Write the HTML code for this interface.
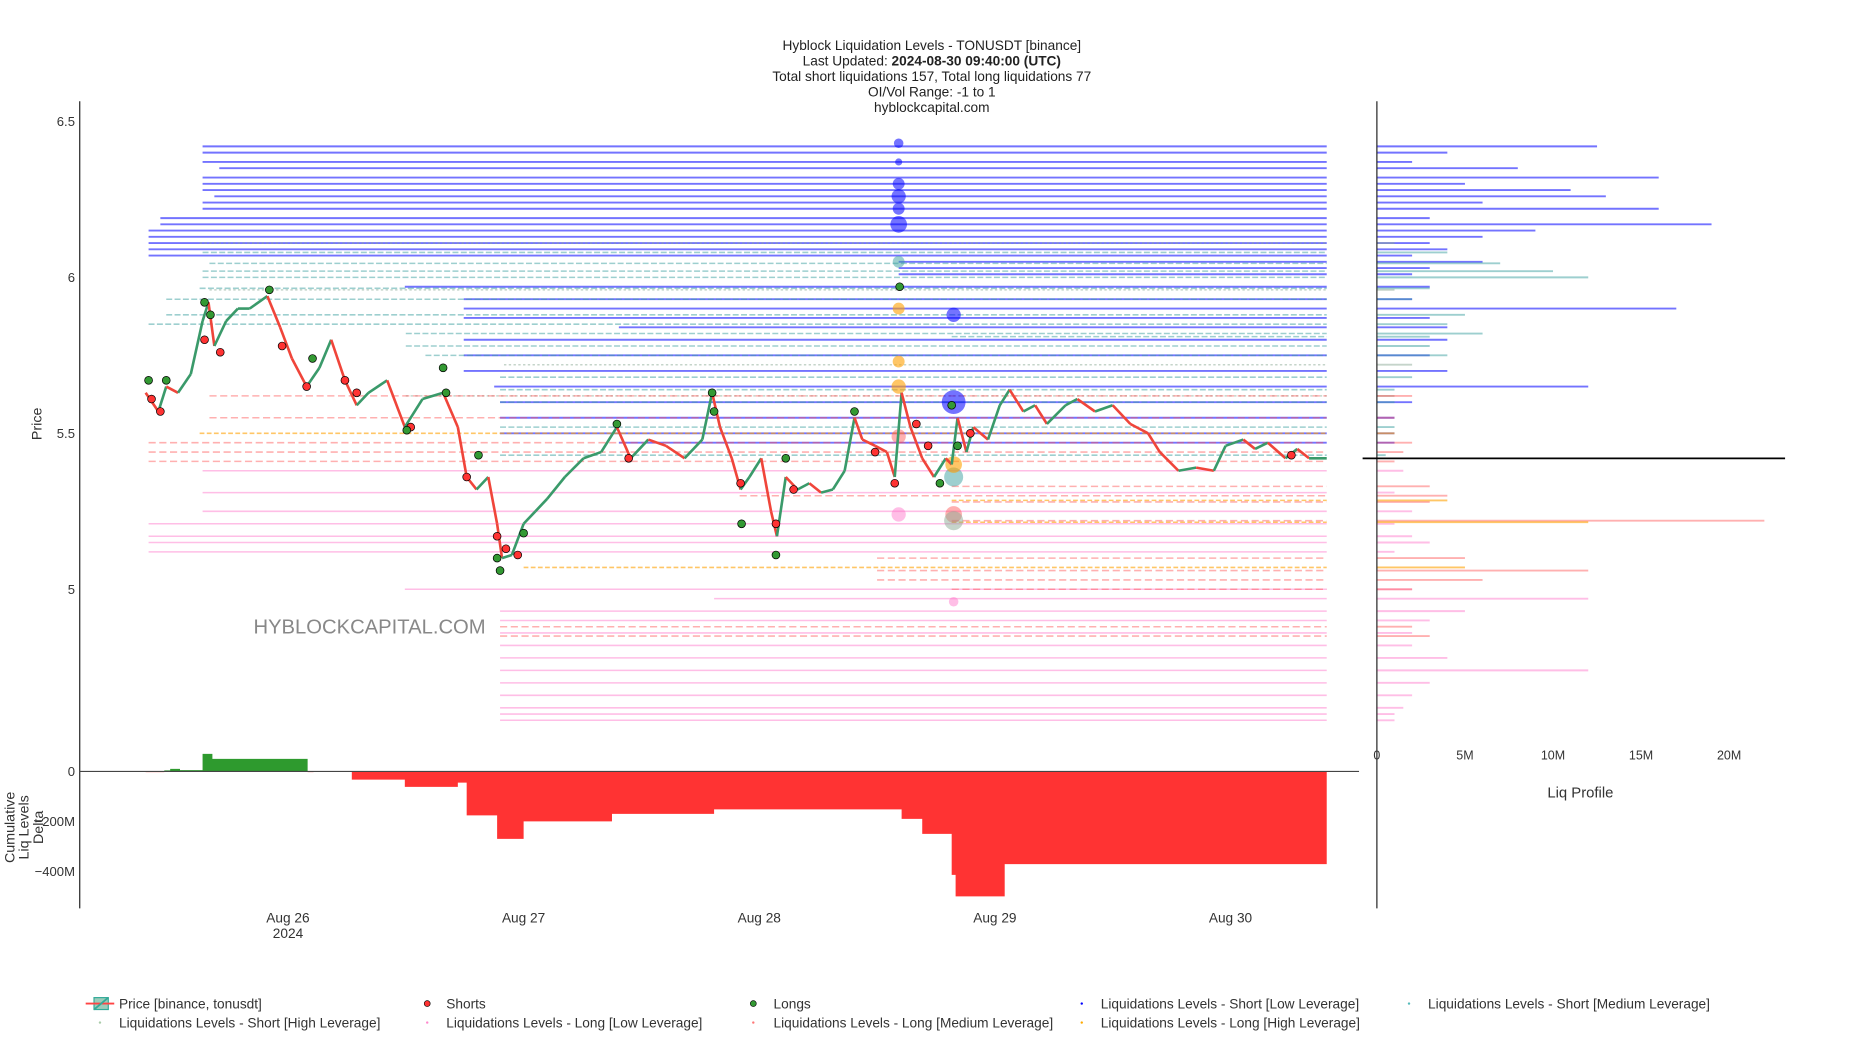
<!DOCTYPE html>
<html><head><meta charset="utf-8"><style>
html,body{margin:0;padding:0;background:#fff;width:1866px;height:1050px;overflow:hidden}
svg{display:block;font-family:"Liberation Sans",sans-serif}
</style></head><body>
<svg id="chart" width="1866" height="1050" viewBox="0 0 1568 882" preserveAspectRatio="none" xmlns="http://www.w3.org/2000/svg">
<g font-size="11.5" text-anchor="middle" fill="#222">
<text x="783" y="42">Hyblock Liquidation Levels - TONUSDT [binance]</text>
<text x="783" y="55">Last Updated: <tspan font-weight="bold">2024-08-30 09:40:00 (UTC)</tspan></text>
<text x="783" y="68">Total short liquidations 157, Total long liquidations 77</text>
<text x="783" y="81">OI/Vol Range: -1 to 1</text>
<text x="783" y="94">hyblockcapital.com</text>
</g>
<text x="213" y="532" font-size="17" fill="#888">HYBLOCKCAPITAL.COM</text>
<g id="levels"></g>
<g id="bubbles"></g>
<g id="price"></g>
<g id="dots"></g>
<g id="delta"></g>
<g id="profile"></g>
<g id="axes" font-size="11" fill="#333"></g>
<g font-size="11.5" fill="#333">
<rect x="79" y="838" width="12" height="10" fill="rgba(90,170,140,0.6)" stroke="#3a9" />
<line x1="72" y1="843" x2="96" y2="843" stroke="#f44" stroke-width="1.5"/>
<line x1="79" y1="848" x2="91" y2="838" stroke="#3a9" stroke-width="1.5"/>
<text x="100" y="847">Price [binance, tonusdt]</text>
<circle cx="359" cy="843" r="2.5" fill="#f33" stroke="#000" stroke-width="0.5"/><text x="375" y="847">Shorts</text>
<circle cx="633" cy="843" r="2.5" fill="#393" stroke="#000" stroke-width="0.5"/><text x="650" y="847">Longs</text>
<circle cx="909" cy="843" r="1" fill="#00f"/><text x="925" y="847">Liquidations Levels - Short [Low Leverage]</text>
<circle cx="1184" cy="843" r="1" fill="#5bb"/><text x="1200" y="847">Liquidations Levels - Short [Medium Leverage]</text>
<circle cx="84" cy="859" r="1" fill="#aca"/><text x="100" y="863">Liquidations Levels - Short [High Leverage]</text>
<circle cx="359" cy="859" r="1" fill="#f8c"/><text x="375" y="863">Liquidations Levels - Long [Low Leverage]</text>
<circle cx="633" cy="859" r="1" fill="#f77"/><text x="650" y="863">Liquidations Levels - Long [Medium Leverage]</text>
<circle cx="909" cy="859" r="1" fill="#fa0"/><text x="925" y="863">Liquidations Levels - Long [High Leverage]</text>
</g>
</svg>
<script>
// price series: hours since Aug 26 00:00 UTC, price
const priceHours=[-14.5,-13.2,-12.4,-11.2,-9.9,-8.7,-8.1,-7.5,-6.3,-5.1,-3.9,-2.1,-0.8,0.4,1.9,3.2,4.4,5.8,7.0,8.2,10.1,11.9,13.7,15.8,17.3,18.2,19.2,20.4,21.3,21.8,22.8,24.0,25.2,26.4,28.2,30.1,31.9,33.5,34.9,36.7,38.5,40.4,42.2,43.2,44.0,45.2,46.1,47.0,48.2,49.2,49.8,50.7,51.9,53.1,54.3,55.5,56.7,57.7,58.5,59.8,61.0,61.8,62.5,63.4,64.6,65.8,67.0,67.6,68.2,69.1,69.8,71.3,72.5,73.5,74.9,76.1,77.3,79.2,80.4,82.2,84.0,85.8,87.6,88.8,90.7,92.5,94.3,95.5,97.3,98.5,99.8,101.6,102.8,104.0,105.8];
const priceValues=[5.63,5.57,5.65,5.63,5.69,5.86,5.92,5.78,5.86,5.90,5.90,5.94,5.84,5.74,5.65,5.71,5.80,5.67,5.59,5.63,5.67,5.52,5.61,5.63,5.52,5.36,5.32,5.36,5.21,5.10,5.11,5.21,5.25,5.29,5.36,5.42,5.44,5.52,5.42,5.48,5.46,5.42,5.48,5.63,5.52,5.42,5.32,5.36,5.42,5.25,5.17,5.36,5.32,5.34,5.31,5.32,5.38,5.55,5.48,5.46,5.44,5.36,5.63,5.52,5.42,5.36,5.42,5.40,5.55,5.44,5.52,5.48,5.59,5.64,5.57,5.59,5.53,5.59,5.61,5.57,5.59,5.53,5.50,5.44,5.38,5.39,5.38,5.46,5.48,5.45,5.47,5.42,5.45,5.42,5.42];
// liquidation levels: price, start hour, type (0 shortLow,1 shortMed,2 shortHigh,3 longLow,4 longMed,5 longHigh), size in M
const lvlPrice=[6.42,6.40,6.37,6.35,6.32,6.30,6.28,6.26,6.24,6.22,6.19,6.17,6.15,6.13,6.11,6.09,6.07,6.05,6.03,6.01,5.97,5.93,5.90,5.87,5.84,5.80,5.75,5.70,5.65,5.60,5.55,5.50,5.47,
 6.08,6.045,6.02,6.00,5.965,5.93,5.88,5.85,5.82,5.78,5.75,5.68,5.64,5.60,5.52,5.43,5.81,
 6.11,5.96,5.72,5.62,
 5.38,5.31,5.25,5.21,5.17,5.15,5.12,5.00,4.97,4.93,4.90,4.86,4.82,4.78,4.74,4.70,4.66,4.62,4.60,4.58,
 5.62,5.55,5.47,5.44,5.41,5.33,5.30,5.28,5.22,5.10,5.06,5.03,5.00,4.88,4.85,
 5.285,5.215,5.07,5.50];
const lvlStart=[-8.7,-8.7,-8.7,-7,-8.7,-8.7,-8.7,-7.5,-8.7,-8.7,-13,-13,-14.2,-14.2,-14.2,-14.2,-14.2,62.2,62.2,62.2,11.9,17.9,17.9,17.9,33.7,17.9,17.9,17.9,21,21.6,21.6,21.6,33.7,
 -8.7,-8,-8.7,-8.7,-9,-12.4,-12.4,-14.2,12,12,14,21.6,21.6,21.6,21.6,21.6,67.6,
 -9,-8,22,12,
 -8.7,-8.7,-8.7,-14.2,-14.2,-14.2,-14.2,11.9,43.4,21.6,21.6,21.6,21.6,21.6,21.6,21.6,21.6,21.6,21.6,21.6,
 -8,-8,-14.2,-14.2,-14.2,67.6,46,67.6,67.6,60,60,60,67.6,21.6,21.6,
 67.6,67.6,24,-9];
const lvlType=[0,0,0,0,0,0,0,0,0,0,0,0,0,0,0,0,0,0,0,0,0,0,0,0,0,0,0,0,0,0,0,0,0,
 1,1,1,1,1,1,1,1,1,1,1,1,1,1,1,1,1,
 2,2,2,2,
 3,3,3,3,3,3,3,3,3,3,3,3,3,3,3,3,3,3,3,3,
 4,4,4,4,4,4,4,4,4,4,4,4,4,4,4,
 5,5,5,5];
const lvlSize=[12.5,4,2,8,16,5,11,13,6,16,3,19,9,6,3,4,2,6,3,2,3,2,17,3,4,4,3,4,12,2,1,1,1,
 4,7,10,12,3,2,5,4,6,3,4,2,1,1,1,0.5,3,
 1,1,2,1,
 1.5,1,2,1,2,3,1,2,12,5,3,2,2,4,12,3,2,1.5,1,1,
 2,1,2,1.5,1,3,4,3,22,5,12,6,2,2,3,
 4,12,5,1];
// bubbles at liquidation columns
const bubHour=[62.2,62.2,62.2,62.2,62.2,62.2,62.2,62.2,62.2,62.2,62.2,62.2,67.8,67.8,67.8,67.8,67.8,67.8,67.8];
const bubPrice=[6.43,6.37,6.30,6.26,6.22,6.17,6.05,5.90,5.73,5.65,5.49,5.24,5.88,5.60,5.36,5.40,5.24,5.22,4.96];
const bubSize=[4,3,5,6,5,7,5,5,5,6,6,6,6,10,8,7,7,8,4];
const bubType=[0,0,0,0,0,0,1,5,5,5,4,3,0,0,1,5,4,2,3];
// shorts / longs markers
const shortHours=[-13.9,-13,-8.5,-6.9,-0.6,1.9,5.8,7,12.5,18.2,21.3,22.2,23.4,34.7,46.1,49.7,51.5,59.8,61.8,64,65.2,69.5,102.2];
const shortPrices=[5.61,5.57,5.80,5.76,5.78,5.65,5.67,5.63,5.52,5.36,5.17,5.13,5.11,5.42,5.34,5.21,5.32,5.44,5.34,5.53,5.46,5.50,5.43];
const longHours=[-14.2,-12.4,-8.5,-7.9,-1.9,2.5,12.1,15.8,16.1,19.4,21.3,21.6,24,33.5,43.2,43.4,46.2,49.7,50.7,57.7,62.3,67.6,68.2,66.4];
const longPrices=[5.67,5.67,5.92,5.88,5.96,5.74,5.51,5.71,5.63,5.43,5.10,5.06,5.18,5.53,5.63,5.57,5.21,5.11,5.42,5.57,5.97,5.59,5.46,5.34];
// cumulative delta (M) step series
const deltaHours=[-14.5,-12.6,-12,-11,-9,-8.7,-7.7,2,2.6,6.5,11.9,17.3,18.2,21.3,24,33,43.4,62,62.5,64.6,67.6,68,73,105.8];
const deltaValues=[-3,4,10,5,5,70,50,-3,0,-33,-62,-45,-176,-270,-200,-170,-152,-152,-190,-250,-414,-500,-371,-371];
const dateTicks=["Aug 26","Aug 27","Aug 28","Aug 29","Aug 30"];
const priceTicks=[6.5,6,5.5,5];
const deltaTicks=[0,-200,-400];
const profTicks=[0,5,10,15,20];

const NS="http://www.w3.org/2000/svg";
const X=h=>242+h*8.25;
const Y=p=>233-(p-6)*262;
const DY=v=>648-v*0.21;
const PX=v=>1157+v*14.8;
const XEND=105.8;
const COL=["rgba(0,0,255,0.55)","rgba(60,160,160,0.5)","rgba(140,170,150,0.5)","rgba(255,110,200,0.45)","rgba(255,80,80,0.45)","rgba(255,160,0,0.6)"];
const DASH=[null,"5 2","2 2",null,"6 3","4 2"];
function mk(tag,attrs,parent){const e=document.createElementNS(NS,tag);for(const k in attrs)e.setAttribute(k,attrs[k]);parent.appendChild(e);return e;}

const gL=document.getElementById('levels'),gP=document.getElementById('profile');
lvlPrice.forEach((p,i)=>{
 const t=lvlType[i];
 const l=mk('line',{x1:X(lvlStart[i]),x2:X(XEND),y1:Y(p),y2:Y(p),stroke:COL[t],'stroke-width':t===0?1.6:1.3},gL);
 if(DASH[t])l.setAttribute('stroke-dasharray',DASH[t]);
 
 
 const b=mk('line',{x1:PX(0),x2:PX(lvlSize[i]),y1:Y(p),y2:Y(p),stroke:COL[t],'stroke-width':1.6},gP);
 
 
});
const gB=document.getElementById('bubbles');
bubHour.forEach((h,i)=>{
 const c=mk('circle',{cx:X(h),cy:Y(bubPrice[i]),r:bubSize[i],fill:COL[bubType[i]]},gB);
 
 
});
const gPr=document.getElementById('price');
for(let i=1;i<priceHours.length;i++){
 const up=priceValues[i]>=priceValues[i-1];
 const s=mk('line',{x1:X(priceHours[i-1]),y1:Y(priceValues[i-1]),x2:X(priceHours[i]),y2:Y(priceValues[i]),stroke:up?'#3a9a6a':'#f0453a','stroke-width':2.2},gPr);
 
 
}
const gD=document.getElementById('dots');
shortHours.forEach((h,i)=>{const c=mk('circle',{cx:X(h),cy:Y(shortPrices[i]),r:3.3,fill:'#f33',stroke:'#000','stroke-width':0.6},gD);
 
 });
longHours.forEach((h,i)=>{const c=mk('circle',{cx:X(h),cy:Y(longPrices[i]),r:3.3,fill:'#393',stroke:'#000','stroke-width':0.6},gD);
 
 });
// delta area (step)
const gDe=document.getElementById('delta');
let pts=X(deltaHours[0])+','+DY(0)+' '+X(deltaHours[0])+','+DY(deltaValues[0]);
for(let i=1;i<deltaHours.length;i++){pts+=' '+X(deltaHours[i])+','+DY(deltaValues[i-1])+' '+X(deltaHours[i])+','+DY(deltaValues[i]);}
pts+=' '+X(deltaHours[deltaHours.length-1])+','+DY(0);
const defs=mk('defs',{},gDe);
const c1=mk('clipPath',{id:'pos'},defs);mk('rect',{x:0,y:0,width:1568,height:DY(0)},c1);
const c2=mk('clipPath',{id:'neg'},defs);mk('rect',{x:0,y:DY(0),width:1568,height:300},c2);
const pg=mk('polygon',{points:pts,fill:'#2e9a2e','clip-path':'url(#pos)'},gDe);


const ng=mk('polygon',{points:pts,fill:'#ff3333','clip-path':'url(#neg)'},gDe);


// axes
const gA=document.getElementById('axes');
mk('line',{x1:67,y1:85,x2:67,y2:763,stroke:'#222','stroke-width':1},gA);
mk('line',{x1:67,y1:DY(0),x2:1142,y2:DY(0),stroke:'#444','stroke-width':1},gA);
mk('line',{x1:1157,y1:85,x2:1157,y2:763,stroke:'#222','stroke-width':1},gA);
mk('line',{x1:1145,y1:385,x2:1500,y2:385,stroke:'#000','stroke-width':1.5},gA);
priceTicks.forEach(p=>{const t=mk('text',{x:63,y:Y(p)+4,'text-anchor':'end'},gA);t.textContent=String(p);
 
 });
deltaTicks.forEach(v=>{const t=mk('text',{x:63,y:DY(v)+4,'text-anchor':'end'},gA);t.textContent=v===0?'0':('\u2212'+(-v)+'M');
 
 });
dateTicks.forEach((d,i)=>{const t=mk('text',{x:X(i*24),y:775,'text-anchor':'middle','font-size':11.5},gA);t.textContent=d;
 
 });
const yr=mk('text',{x:X(0),y:788,'text-anchor':'middle','font-size':11.5},gA);yr.textContent='2024';


profTicks.forEach(v=>{const t=mk('text',{x:PX(v),y:638,'text-anchor':'middle','font-size':10.5},gA);t.textContent=v===0?'0':v+'M';
 
 });
const lp=mk('text',{x:1328,y:670,'text-anchor':'middle','font-size':12.5},gA);lp.textContent='Liq Profile';


const pt=mk('text',{x:35,y:356,'text-anchor':'middle',transform:'rotate(-90 35 356)','font-size':12},gA);pt.textContent='Price';


['Cumulative','Liq Levels','Delta'].forEach((s,i)=>{const x=12+i*12;const t=mk('text',{x:x,y:695,'text-anchor':'middle',transform:'rotate(-90 '+x+' 695)','font-size':12},gA);t.textContent=s;
 
 });
</script>
</body></html>
